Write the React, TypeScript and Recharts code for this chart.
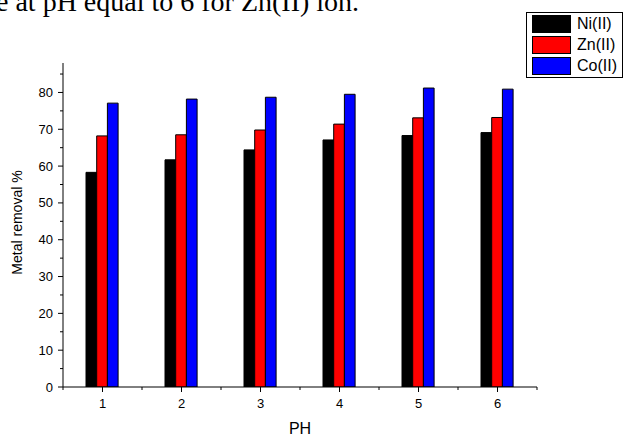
import React from 'react';
import { BarChart, Bar, XAxis, YAxis, Legend, Label } from 'recharts';

const phValues = [1, 2, 3, 4, 5, 6];
const niRemoval = [58.3, 61.7, 64.4, 67.1, 68.3, 69.1];
const znRemoval = [68.2, 68.5, 69.8, 71.4, 73.1, 73.2];
const coRemoval = [77.1, 78.2, 78.7, 79.5, 81.2, 80.9];
const seriesKeys = ['ni', 'zn', 'co'];
const seriesNames = ['Ni(II)', 'Zn(II)', 'Co(II)'];
const seriesColors = ['#000000', '#ff0000', '#0000ff'];
const xTicks = [0.5, 1, 1.5, 2, 2.5, 3, 3.5, 4, 4.5, 5, 5.5, 6, 6.5];
const yTicks = [0, 5, 10, 15, 20, 25, 30, 35, 40, 45, 50, 55, 60, 65, 70, 75, 80, 85];
const captionText = 'e at pH equal to 6 for Zn(II) ion.';
const xLabel = 'PH';
const yLabel = 'Metal removal %';

const data = phValues.map((ph, i) => ({
  ph,
  ni: niRemoval[i],
  zn: znRemoval[i],
  co: coRemoval[i],
}));

const FONT = '"Liberation Sans", Arial, Helvetica, sans-serif';
const TICK_SIZE = 5;
const X_TICK_MARGIN = 7;
const Y_TICK_MARGIN = 5;

const XTick = (props: any) => {
  const { x, y, payload } = props;
  const v = payload.value;
  const major = Number.isInteger(v);
  const axisY = y - TICK_SIZE - X_TICK_MARGIN;
  return (
    <g>
      <line x1={x} x2={x} y1={axisY} y2={axisY + (major ? 5 : 3)} stroke="#000" strokeWidth={1} />
      {major && (
        <text x={x} y={y} dy="0.71em" textAnchor="middle" fontSize={13} fontFamily={FONT} fill="#000">
          {v}
        </text>
      )}
    </g>
  );
};

const YTick = (props: any) => {
  const { x, y, payload } = props;
  const v = payload.value;
  const major = v % 10 === 0;
  const axisX = x + TICK_SIZE + Y_TICK_MARGIN;
  return (
    <g>
      <line x1={axisX - (major ? 5 : 3)} x2={axisX} y1={y} y2={y} stroke="#000" strokeWidth={1} />
      {major && (
        <text x={x} y={y} dy="0.35em" textAnchor="end" fontSize={13} fontFamily={FONT} fill="#000">
          {v}
        </text>
      )}
    </g>
  );
};

const LegendBox = () => (
  <div
    style={{
      boxSizing: 'border-box',
      width: 97,
      height: 66,
      border: '1px solid #000',
      background: '#fff',
      padding: '2px 0 0 5px',
      fontFamily: FONT,
      fontSize: 16,
      color: '#000',
    }}
  >
    {seriesNames.map((name, i) => (
      <div key={name} style={{ display: 'flex', alignItems: 'center', height: 18, marginBottom: 3 }}>
        <div
          style={{
            boxSizing: 'border-box',
            width: 39,
            height: 18,
            background: seriesColors[i],
            border: '1px solid #000',
            marginRight: 6,
          }}
        />
        <span style={{ lineHeight: '18px', whiteSpace: 'nowrap' }}>{name}</span>
      </div>
    ))}
  </div>
);

export default function App() {
  return (
    <div
      style={{
        position: 'absolute',
        left: 0,
        top: 0,
        width: 624,
        height: 436,
        overflow: 'hidden',
        background: '#fff',
      }}
    >
      <svg width={624} height={436} style={{ position: 'absolute', left: 0, top: 0 }}>
        <text
          x={-4}
          y={11}
          fontSize={28}
          fontFamily='"Liberation Serif", "Times New Roman", serif'
          fill="#000"
        >
          {captionText}
        </text>
      </svg>
      <div style={{ position: 'absolute', left: 0, top: 0 }}>
        <BarChart
          width={624}
          height={436}
          data={data}
          margin={{ top: 63, right: 87, left: 0, bottom: 0 }}
          barGap={0}
          barSize={10.7}
        >
          <XAxis
            dataKey="ph"
            type="number"
            domain={[0.5, 6.5]}
            ticks={xTicks}
            interval={0}
            allowDataOverflow
            height={49}
            axisLine={{ stroke: '#000', strokeWidth: 1 }}
            tickLine={false}
            tickSize={TICK_SIZE}
            tickMargin={X_TICK_MARGIN}
            tick={<XTick />}
          >
            <Label
              content={(p: any) => {
                const vb = p.viewBox;
                return (
                  <text
                    x={vb.x + vb.width / 2}
                    y={vb.y + 47}
                    textAnchor="middle"
                    fontSize={16}
                    fontFamily={FONT}
                    fill="#000"
                  >
                    {xLabel}
                  </text>
                );
              }}
            />
          </XAxis>
          <YAxis
            type="number"
            domain={[0, 88]}
            ticks={yTicks}
            interval={0}
            allowDataOverflow
            width={63}
            axisLine={{ stroke: '#000', strokeWidth: 1 }}
            tickLine={false}
            tickSize={TICK_SIZE}
            tickMargin={Y_TICK_MARGIN}
            tick={<YTick />}
          >
            <Label
              content={(p: any) => {
                const vb = p.viewBox;
                const cx = vb.x + 22;
                const cy = vb.y + vb.height / 2 - 2.5;
                return (
                  <text
                    x={cx}
                    y={cy}
                    textAnchor="middle"
                    fontSize={14}
                    fontFamily={FONT}
                    fill="#000"
                    transform={`rotate(-90, ${cx}, ${cy})`}
                  >
                    {yLabel}
                  </text>
                );
              }}
            />
          </YAxis>
          <Legend
            layout="vertical"
            align="center"
            verticalAlign="middle"
            wrapperStyle={{ left: 526, top: 12, width: 97, height: 66 }}
            content={() => <LegendBox />}
          />
          {seriesKeys.map((k, i) => (
            <Bar
              key={k}
              dataKey={k}
              name={seriesNames[i]}
              fill={seriesColors[i]}
              stroke="#000"
              strokeWidth={1}
              isAnimationActive={false}
            />
          ))}
        </BarChart>
      </div>
    </div>
  );
}
